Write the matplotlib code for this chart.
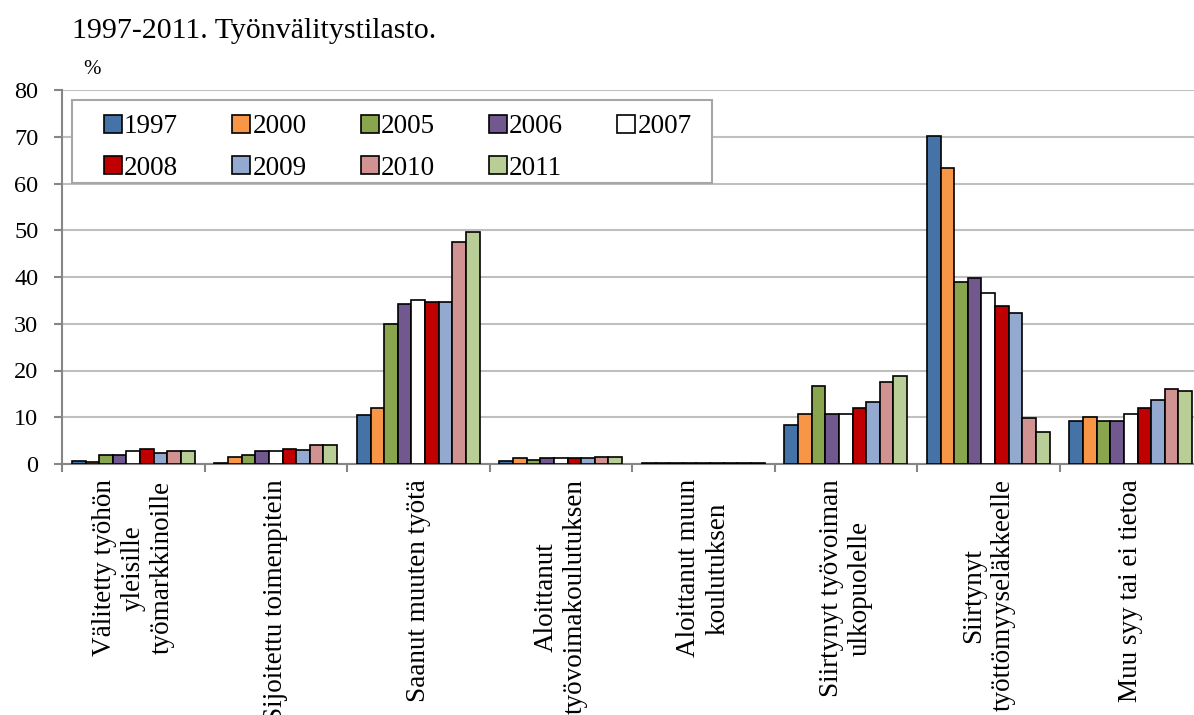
import numpy as np
import matplotlib.pyplot as plt
from matplotlib.patches import Patch, Rectangle

plt.rcParams['font.family'] = ['Liberation Serif', 'DejaVu Serif']

categories = ["Välitetty työhön\nyleisille\ntyömarkkinoille",
              "Sijoitettu toimenpitein",
              "Saanut muuten työtä",
              "Aloittanut\ntyövoimakoulutuksen",
              "Aloittanut muun\nkoulutuksen",
              "Siirtynyt työvoiman\nulkopuolelle",
              "Siirtynyt\ntyöttömyyseläkkeelle",
              "Muu syy tai ei tietoa"]

years = ["1997", "2000", "2005", "2006", "2007", "2008", "2009", "2010", "2011"]

v1997 = [0.6, 0.3, 10.4, 0.7, 0.3, 8.4, 70.1, 9.3]
v2000 = [0.5, 1.5, 12.0, 1.2, 0.3, 10.6, 63.3, 10.1]
v2005 = [2.0, 2.0, 29.9, 0.8, 0.3, 16.6, 39.0, 9.3]
v2006 = [2.0, 2.8, 34.2, 1.2, 0.3, 10.6, 39.8, 9.3]
v2007 = [2.7, 2.8, 35.1, 1.2, 0.3, 10.6, 36.5, 10.7]
v2008 = [3.2, 3.2, 34.6, 1.2, 0.3, 12.0, 33.8, 11.9]
v2009 = [2.3, 3.1, 34.6, 1.2, 0.3, 13.2, 32.2, 13.6]
v2010 = [2.7, 4.1, 47.5, 1.6, 0.3, 17.6, 9.9, 16.1]
v2011 = [2.7, 4.0, 49.6, 1.6, 0.3, 18.8, 6.9, 15.6]

series = [v1997, v2000, v2005, v2006, v2007, v2008, v2009, v2010, v2011]
colors = ["#4572A7", "#F79646", "#89A54E", "#71588F", "#FFFFFF",
          "#C00000", "#93A9CF", "#D19392", "#B9CD96"]

fig = plt.figure(figsize=(11.94, 7.15), dpi=100)
ax = fig.add_axes([62/1194, 251/715, 1140/1194, 374/715])

x = np.arange(len(categories))
w = 0.0956
for i, (vals, c) in enumerate(zip(series, colors)):
    ax.bar(x + (i - 4) * w, vals, w, color=c, edgecolor='black',
           linewidth=1.2, zorder=3)

ax.set_xlim(-0.5, len(categories) - 0.5)
ax.set_ylim(0, 80)
ax.set_yticks(range(0, 81, 10))
ax.yaxis.grid(True, color='#bfbfbf', linewidth=1.5, zorder=0)
ax.set_axisbelow(True)

ax.set_xticks(x)
ax.set_xticklabels(categories, rotation=90, fontsize=19.5, linespacing=1.22,
                   multialignment='center')
ax.set_xticks(np.arange(-0.5, len(categories) + 0.5, 1), minor=True)
ax.tick_params(axis='x', which='major', length=0, pad=11)
ax.tick_params(axis='x', which='minor', length=6, width=1.5, color='#868686')
ax.tick_params(axis='y', length=6, width=1.5, color='#868686', labelsize=17.5, pad=11)

for s in ['top', 'right']:
    ax.spines[s].set_visible(False)
for s in ['left', 'bottom']:
    ax.spines[s].set_color('#868686')
    ax.spines[s].set_linewidth(1.5)

# legend frame
ax.add_patch(Rectangle((0.0088, 0.751), 0.561, 0.222, transform=ax.transAxes,
                       facecolor='white', edgecolor='#a6a6a6', linewidth=1.5,
                       zorder=4))

handles = [Patch(facecolor=c, edgecolor='black', linewidth=1.2) for c in colors]
order = [0, 5, 1, 6, 2, 7, 3, 8, 4]
leg = ax.legend([handles[i] for i in order], [years[i] for i in order],
                ncol=5, loc='upper left', bbox_to_anchor=(0.0368, 0.935),
                frameon=False, fontsize=19.5, handlelength=0.67,
                handleheight=0.67, handletextpad=0.07, columnspacing=2.0,
                labelspacing=0.6, borderpad=0.0, borderaxespad=0.0)
leg.set_zorder(5)

fig.text(72/1194, 1 - 31/715, "1997-2011. Työnvälitystilasto.", fontsize=21.5,
         va='center', ha='left')
fig.text(83/1194, 1 - 70/715, "%", fontsize=15, va='center', ha='left')

fig.savefig('out.png', dpi=100)
